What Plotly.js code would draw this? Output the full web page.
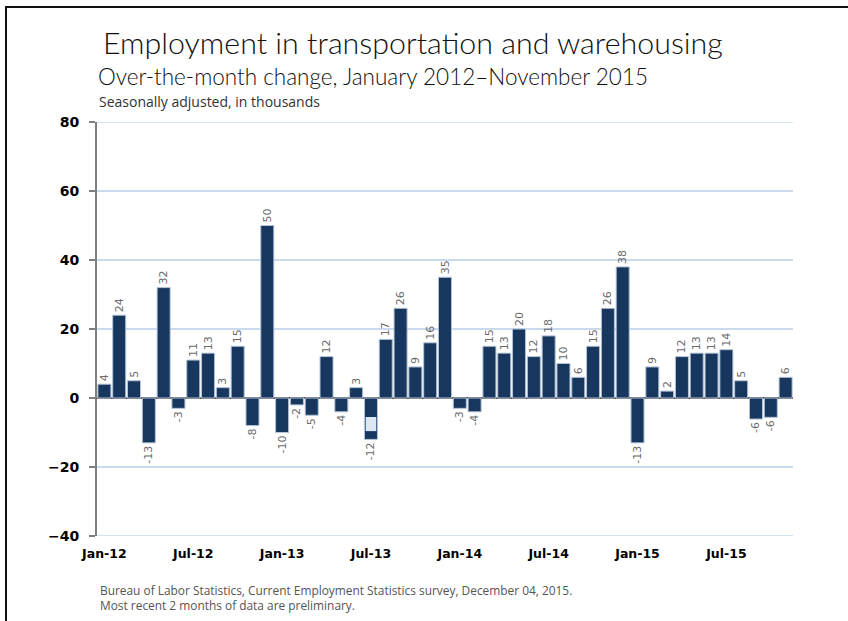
<!DOCTYPE html>
<html>
<head>
<meta charset="utf-8">
<script src="https://cdn.plot.ly/plotly-3.0.1.min.js"></script>
<style>
  html, body { margin: 0; padding: 0; background: #fff; }
  #wrap { position: relative; width: 848px; height: 621px; overflow: hidden; }
  #chart { position: absolute; left: 0; top: 0; width: 848px; height: 621px; }
  #frame { position: absolute; left: 5px; top: 6px; width: 860px; height: 640px;
           border-top: 2px solid #111; border-left: 2px solid #111; pointer-events: none; }
</style>
</head>
<body>
<div id="wrap"><div id="chart"></div><div id="frame"></div></div>
<script>
const months = [
  'Jan-12','Feb-12','Mar-12','Apr-12','May-12','Jun-12','Jul-12','Aug-12','Sep-12','Oct-12','Nov-12','Dec-12',
  'Jan-13','Feb-13','Mar-13','Apr-13','May-13','Jun-13','Jul-13','Aug-13','Sep-13','Oct-13','Nov-13','Dec-13',
  'Jan-14','Feb-14','Mar-14','Apr-14','May-14','Jun-14','Jul-14','Aug-14','Sep-14','Oct-14','Nov-14','Dec-14',
  'Jan-15','Feb-15','Mar-15','Apr-15','May-15','Jun-15','Jul-15','Aug-15','Sep-15','Oct-15','Nov-15'
];
const changes = [
  4, 24, 5, -13, 32, -3, 11, 13, 3, 15, -8, 50,
  -10, -2, -5, 12, -4, 3, -12, 17, 26, 9, 16, 35,
  -3, -4, 15, 13, 20, 12, 18, 10, 6, 15, 26, 38,
  -13, 9, 2, 12, 13, 13, 14, 5, -6.1, -5.6, 6
];
const tickMonths = ['Jan-12','Jul-12','Jan-13','Jul-13','Jan-14','Jul-14','Jan-15','Jul-15'];
const yTicks = [-40, -20, 0, 20, 40, 60, 80];
// light overlay box seen inside the Jul-13 bar
const highlightMonth = ['Jul-13'];
const highlightBase = [-5.5];
const highlightSize = [-4.1];

const titleText = 'Employment in transportation and warehousing';
const subtitleText = 'Over-the-month change, January 2012\u2013November 2015';
const unitText = 'Seasonally adjusted, in thousands';
const sourceText = 'Bureau of Labor Statistics, Current Employment Statistics survey, December 04, 2015.';
const noteText = 'Most recent 2 months of data are preliminary.';

const L = 97, R = 793, T = 122, B = 536, W = 848, H = 621;
const py = v => (B - v) / (B - T);
const px = v => (v - L) / (R - L);

const traces = [
  {
    type: 'bar', x: months, y: changes,
    marker: { color: '#17375e', line: { color: '#b4c3d6', width: 1 } },
    text: changes.map(v => String(Math.round(v))),
    textposition: 'outside', textangle: -90,
    textfont: { family: 'DejaVu Sans', size: 11, color: '#6b6b6b' },
    constraintext: 'none', cliponaxis: false, hoverinfo: 'x+y'
  },
  {
    type: 'bar', x: highlightMonth, y: highlightSize, base: highlightBase,
    marker: { color: '#dde7f3', line: { width: 0 } }, width: 0.72,
    hoverinfo: 'skip', showlegend: false
  }
];

// gridlines at the range ends (Plotly omits them at the axis edges)
const edgeGrid = [yTicks[0], yTicks[yTicks.length - 1]].map(v => ({
  type: 'line', xref: 'paper', yref: 'y', x0: 0, x1: 1, y0: v, y1: v,
  line: { color: '#c9daee', width: 1.5 }, layer: 'below'
}));

const layout = {
  width: W, height: H,
  margin: { l: L, r: W - R, t: T, b: H - B, pad: 0 },
  paper_bgcolor: '#ffffff', plot_bgcolor: '#ffffff',
  showlegend: false, barmode: 'overlay', bargap: 0.12,
  xaxis: {
    type: 'category', categoryorder: 'array', categoryarray: months,
    tickmode: 'array', tickvals: tickMonths, ticktext: tickMonths,
    tickangle: 0, ticks: '', showgrid: false, zeroline: false, showline: false,
    ticklabelstandoff: 8,
    tickfont: { family: 'DejaVu Sans', size: 12.5, color: '#000', weight: 'bold' },
    range: [-0.5, months.length - 0.5], fixedrange: true
  },
  yaxis: {
    range: [-40, 80], tickmode: 'array', tickvals: yTicks,
    ticks: 'outside', ticklen: 6, tickwidth: 1.5, tickcolor: '#7f7f7f',
    ticklabelstandoff: 7,
    showline: true, linecolor: '#7f7f7f', linewidth: 2,
    showgrid: true, gridcolor: '#c9daee', gridwidth: 1.5,
    zeroline: true, zerolinecolor: '#5a5a5a', zerolinewidth: 1.5,
    tickfont: { family: 'DejaVu Sans', size: 14, color: '#000', weight: 'bold' },
    fixedrange: true
  },
  shapes: edgeGrid,
  annotations: [
    { text: titleText, xref: 'paper', yref: 'paper', x: px(101), y: py(42), xanchor: 'left', yanchor: 'middle',
      showarrow: false, font: { family: 'Lato', size: 30.4, color: '#111', weight: 300 } },
    { text: subtitleText, xref: 'paper', yref: 'paper', x: px(96), y: py(77), xanchor: 'left', yanchor: 'middle',
      showarrow: false, font: { family: 'Lato', size: 22.5, color: '#111', weight: 300 } },
    { text: unitText, xref: 'paper', yref: 'paper', x: px(97), y: py(101), xanchor: 'left', yanchor: 'middle',
      showarrow: false, font: { family: 'Open Sans', size: 14, color: '#333' } },
    { text: sourceText, xref: 'paper', yref: 'paper', x: px(98), y: py(590), xanchor: 'left', yanchor: 'middle',
      showarrow: false, font: { family: 'Open Sans', size: 11.9, color: '#555' } },
    { text: noteText, xref: 'paper', yref: 'paper', x: px(98), y: py(605), xanchor: 'left', yanchor: 'middle',
      showarrow: false, font: { family: 'Open Sans', size: 11.9, color: '#555' } }
  ]
};

Plotly.newPlot('chart', traces, layout, { displayModeBar: false, staticPlot: true });
</script>
</body>
</html>
